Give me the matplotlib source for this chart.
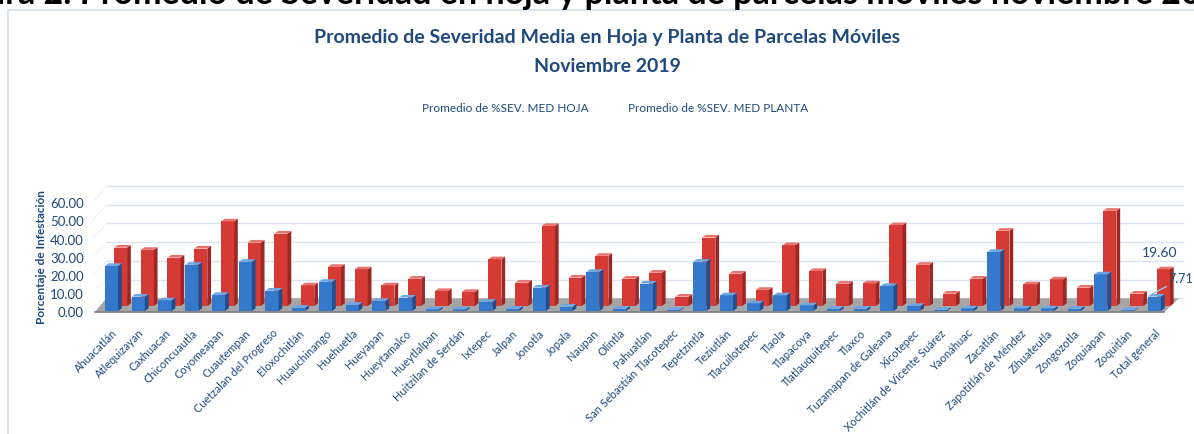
import matplotlib
matplotlib.use("Agg")
import matplotlib.pyplot as plt
from matplotlib.patches import Polygon, Rectangle
import numpy as np

plt.rcParams['font.family'] = ['Lato', 'DejaVu Sans']

# datos
municipios = ["Ahuacatlán", "Atlequizayan", "Caxhuacan", "Chiconcuautla", "Coyomeapan",
              "Cuautempan", "Cuetzalan del Progreso", "Eloxochitlán", "Huauchinango",
              "Huehuetla", "Hueyapan", "Hueytamalco", "Hueytlalpan", "Huitzilan de Serdán",
              "Ixtepec", "Jalpan", "Jonotla", "Jopala", "Naupan", "Olintla", "Pahuatlán",
              "San Sebastián Tlacotepec", "Tepetzintla", "Teziutlán", "Tlacuilotepec",
              "Tlaola", "Tlapacoya", "Tlatlauquitepec", "Tlaxco", "Tuzamapan de Galeana",
              "Xicotepec", "Xochitlán de Vicente Suárez", "Yaonáhuac", "Zacatlán",
              "Zapotitlán de Méndez", "Zihuateutla", "Zongozotla", "Zoquiapan", "Zoquitlán",
              "Total general"]

hoja = [24.1, 7.7, 5.7, 24.7, 8.6, 26.3, 10.9, 1.8, 15.6, 3.3,
        5.4, 7.2, 0.9, 0.9, 4.9, 1.3, 12.5, 2.4, 20.9, 1.3,
        14.7, 0.6, 26.4, 8.4, 4.1, 8.4, 3.0, 1.3, 1.3, 13.4,
        2.7, 0.6, 1.4, 31.6, 1.4, 1.4, 1.3, 19.6, 0.4, 7.71]

planta = [31.2, 30.0, 25.9, 30.7, 45.2, 33.9, 38.7, 11.0, 20.9, 19.6,
          11.0, 14.6, 8.0, 7.5, 25.0, 12.5, 42.8, 15.2, 26.8, 14.6,
          17.8, 5.0, 36.6, 17.3, 8.6, 32.5, 18.7, 11.9, 12.1, 43.2,
          22.0, 6.6, 14.6, 40.2, 11.6, 14.2, 9.8, 50.9, 6.6, 19.60]

yticks = [0, 10, 20, 30, 40, 50, 60]

azul_txt = '#1F497D'
W, H = 1194, 434

fig = plt.figure(figsize=(W / 100, H / 100), dpi=100)

# marco del grafico y texto cortado de arriba
fig.patches.append(Rectangle((8 / W, -0.05), 1.1, (H - 10) / H + 0.05, transform=fig.transFigure,
                             fill=False, ec='#D5DFEC', lw=1.3))
fig.text(-0.05, 1 - 4 / H, "Figura 2. Promedio de Severidad en hoja y planta de parcelas móviles noviembre 2019",
         fontsize=24.5, fontweight='bold', color='black', va='baseline', ha='left')

fig.text(607 / W, 1 - 38 / H, "Promedio de Severidad Media en Hoja y Planta de Parcelas Móviles",
         ha='center', va='center', fontsize=14, fontweight='bold', color=azul_txt)
fig.text(607 / W, 1 - 67 / H, "Noviembre 2019", ha='center', va='center',
         fontsize=14, fontweight='bold', color=azul_txt)
fig.text(505 / W, 1 - 109 / H, "Promedio de %SEV. MED HOJA", ha='center', va='center',
         fontsize=8.5, color=azul_txt)
fig.text(718 / W, 1 - 109 / H, "Promedio de %SEV. MED PLANTA", ha='center', va='center',
         fontsize=8.5, color=azul_txt)
fig.text(42 / W, 1 - 257 / H, "Porcentaje de Infestación", rotation=90, ha='center', va='center',
         fontsize=8.5, fontweight='bold', color=azul_txt)

ax = fig.add_axes([89.3 / W, (H - 318) / H, 1096.3 / W, 138 / H])
ax.set_xlim(-1.0, 40.0)
ax.set_ylim(-3.74, 70.05)
ax.set_facecolor('none')
for s in ax.spines.values():
    s.set_visible(False)

x = np.arange(len(municipios))
dx, dy = 0.14, 1.4
base_roja = 2.7

# piso y lineas de division
ax.add_patch(Polygon([(-0.8, -0.6), (39.2, -0.6), (39.75, 6.8), (-0.35, 6.8)],
                     closed=True, fc='#A6A6A6', ec='none', zorder=1))
ax.plot([-0.8, 39.2], [-0.6, -0.6], color='#7F7F7F', lw=1.2, zorder=1.1)
for k, v in enumerate(yticks):
    yg = 6.8 + v
    ax.plot([-0.35, 39.9], [yg, yg], color='#DCE4F0', lw=1, zorder=0.5)
    ax.plot([-0.85, -0.35], [yg - 6.5 - 0.03 * v, yg], color='#DCE4F0', lw=0.8, ls=':', zorder=0.5)


def caras_3d(barras, lado, techo, z):
    for b in barras:
        x0, w = b.get_x(), b.get_width()
        y0, h = b.get_y(), b.get_height()
        x1, y1 = x0 + w, y0 + h
        ax.add_patch(Polygon([(x1, y0), (x1 + dx, y0 + dy), (x1 + dx, y1 + dy), (x1, y1)],
                             closed=True, fc=lado, ec='none', zorder=z))
        ax.add_patch(Polygon([(x0, y1), (x1, y1), (x1 + dx, y1 + dy), (x0 + dx, y1 + dy)],
                             closed=True, fc=techo, ec='none', zorder=z))


rojas = ax.bar(x + 0.168, planta, width=0.49, bottom=base_roja, color='#D63A34', zorder=2)
caras_3d(rojas, '#9E2623', '#E8726D', 2)
azules = ax.bar(x - 0.168, hoja, width=0.49, color='#3479CC', zorder=3)
caras_3d(azules, '#1F4F8F', '#6FA5E3', 3)

ax.set_yticks([0.972 * v - 0.7 for v in yticks], [f"{v:.2f}" for v in yticks])
ax.set_xticks(x - 0.168, municipios, rotation=45, ha='right', rotation_mode='anchor')
ax.tick_params(axis='y', length=0, pad=4, labelsize=9.5, labelcolor=azul_txt)
ax.tick_params(axis='x', length=0, pad=7, labelsize=8.0, labelcolor=azul_txt)

# etiquetas del total general
ax.annotate(f"{planta[-1]:.2f}", xy=(x[-1] + 0.03, base_roja + planta[-1] + dy),
            xytext=(0, 10), textcoords='offset points', ha='center', va='center',
            fontsize=10, color=azul_txt, zorder=5)
ax.annotate(f"{hoja[-1]:.2f}", xy=(x[-1] - 0.25, hoja[-1] + dy),
            xytext=(12, 11), textcoords='offset points', ha='left', va='center',
            fontsize=9, color=azul_txt, zorder=5,
            bbox=dict(boxstyle='square,pad=0.1', fc='none', ec='none'),
            arrowprops=dict(arrowstyle='-', color='#9DC3E6', lw=1, shrinkA=1, shrinkB=0))

fig.savefig("out.png", dpi=100)
